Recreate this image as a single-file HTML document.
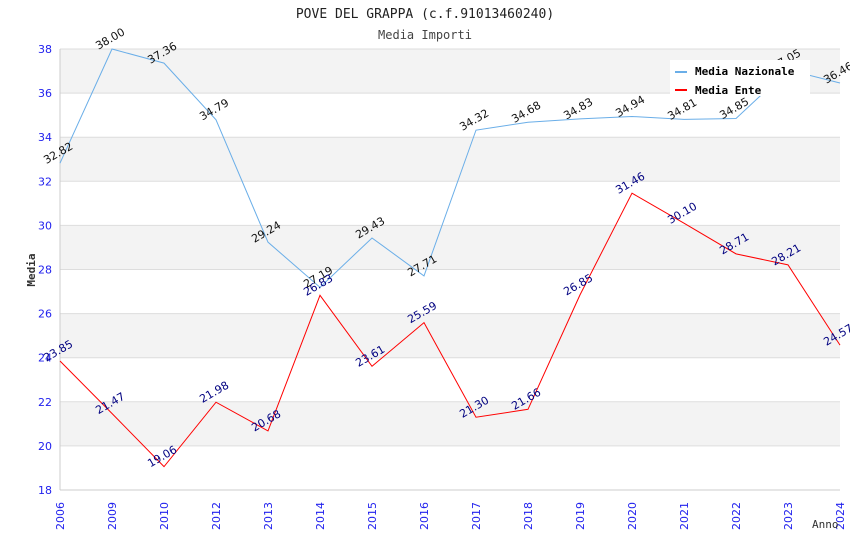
<!DOCTYPE html>
<html><head><meta charset="utf-8"><style>
body{margin:0;background:#fff}
svg text{font-family:"DejaVu Sans","Liberation Sans",sans-serif}
.mono{font-family:"DejaVu Sans Mono","Liberation Mono",monospace}
</style></head><body>
<svg id="c" width="850" height="550" xmlns="http://www.w3.org/2000/svg">
<text class="mono" x="425" y="18" text-anchor="middle" font-size="13" fill="#222">POVE DEL GRAPPA (c.f.91013460240)</text>
<text class="mono" x="425" y="39" text-anchor="middle" font-size="12" fill="#444">Media Importi</text>
<g id="bands"></g><g id="grid"></g><g id="axes"></g><g id="series"></g><g id="labels"></g>
<text class="mono" transform="translate(35,270) rotate(-90)" text-anchor="middle" font-size="11" font-weight="bold" fill="#333">Media</text>
<text class="mono" x="812" y="528" font-size="11" fill="#333">Anno</text>
<g>
<rect x="670" y="60" width="140" height="36" fill="#fff"/>
<line x1="675" y1="72" x2="687" y2="72" stroke="#6aaee8" stroke-width="2"/>
<text class="mono" x="695" y="75" font-size="11" font-weight="bold" fill="#000">Media Nazionale</text>
<line x1="675" y1="90" x2="687" y2="90" stroke="#f00" stroke-width="2"/>
<text class="mono" x="695" y="94" font-size="11" font-weight="bold" fill="#000">Media Ente</text>
</g>
</svg>
<script>
const categories=["2006","2009","2010","2012","2013","2014","2015","2016","2017","2018","2019","2020","2021","2022","2023","2024"];
const nazionale=[32.82,38.00,37.36,34.79,29.24,27.19,29.43,27.71,34.32,34.68,34.83,34.94,34.81,34.85,37.05,36.46];
const ente=[23.85,21.47,19.06,21.98,20.68,26.83,23.61,25.59,21.30,21.66,26.85,31.46,30.10,28.71,28.21,24.57];
const yTicks=[18,20,22,24,26,28,30,32,34,36,38];
const L=60,R=840,T=49,B=490,yMin=18,yMax=38;
const NS="http://www.w3.org/2000/svg";
const xs=i=>L+i*(R-L)/(categories.length-1);
const ys=v=>B-(v-yMin)/(yMax-yMin)*(B-T);
function mk(p,tag,a){const e=document.createElementNS(NS,tag);for(const k in a)e.setAttribute(k,a[k]);document.getElementById(p).appendChild(e);return e;}
for(let i=0;i<yTicks.length-1;i++){
 if(i%2==1){const r=mk('bands','rect',{x:L,y:ys(yTicks[i+1]),width:R-L,height:ys(yTicks[i])-ys(yTicks[i+1]),fill:'#f3f3f3'});
 
 }
}
yTicks.forEach(v=>{
 const l=mk('grid','line',{x1:L,x2:R,y1:ys(v),y2:ys(v),stroke:'#ddd'});
 
 
 const t=mk('axes','text',{x:L-8,y:ys(v)+4,'text-anchor':'end','font-size':11,fill:'#2222ee'});t.textContent=v;
 
 
});
const ax=mk('axes','line',{x1:L,x2:L,y1:T,y2:B,stroke:'#ccc'});


const bx=mk('axes','line',{x1:L,x2:R,y1:B,y2:B,stroke:'#ccc'});


categories.forEach((c,i)=>{
 const t=mk('axes','text',{transform:`translate(${xs(i)+4},${B+40}) rotate(-90)`,'font-size':11,fill:'#2222ee'});t.textContent=c;
 
 
});
function series(data,color,lc,name){
 const p=mk('series','polyline',{points:data.map((v,i)=>xs(i)+','+ys(v)).join(' '),fill:'none',stroke:color,'stroke-width':1});
 
 
 data.forEach((v,i)=>{
  const t=mk('labels','text',{transform:`translate(${xs(i)},${ys(v)-7}) rotate(-30)`,'text-anchor':'middle','font-size':11,fill:lc});
  t.textContent=v.toFixed(2);
  
  
 });
}
series(nazionale,'#6aaee8','#111','line-media-nazionale');
series(ente,'#f00','#000080','line-media-ente');
</script>
</body></html>
